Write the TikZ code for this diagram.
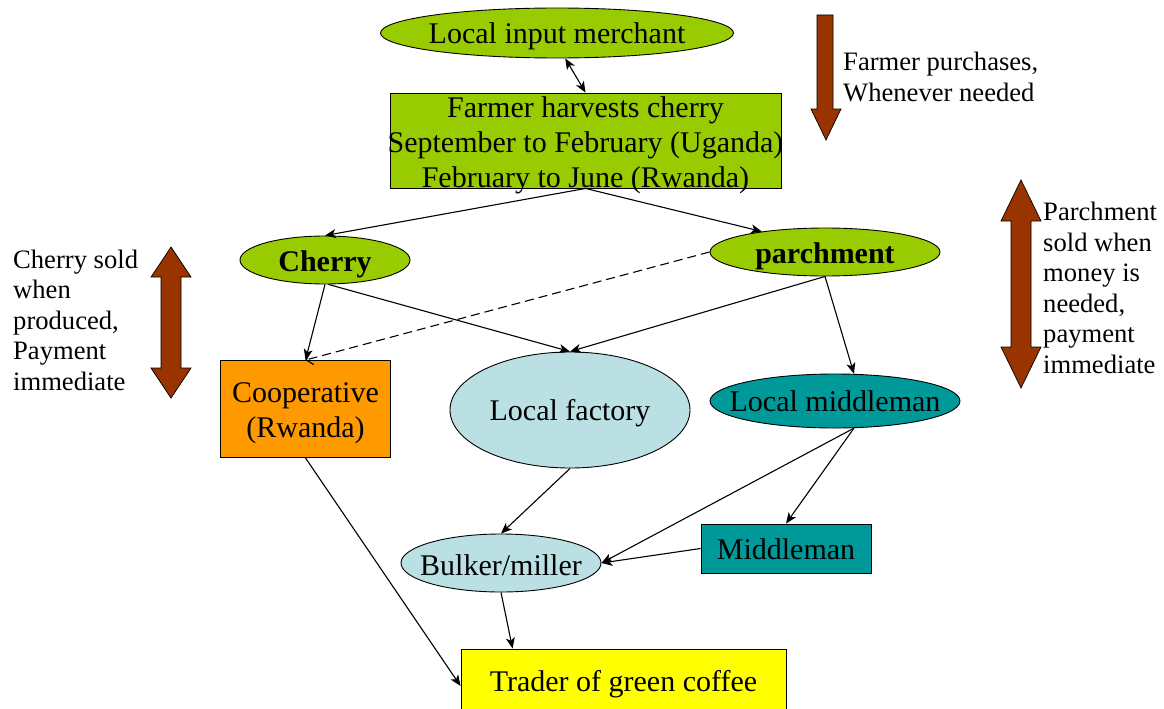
\documentclass[tikz,border=0pt]{standalone}
\usepackage{fontspec}
\setmainfont{Liberation Serif}
\usetikzlibrary{shapes.geometric,arrows.meta}
\definecolor{lgreen}{HTML}{99CC00}
\definecolor{orng}{HTML}{FF9900}
\definecolor{lblue}{HTML}{BBE0E3}
\definecolor{teal2}{HTML}{009999}
\definecolor{yel}{HTML}{FFFF00}
\definecolor{brown2}{HTML}{993300}
\tikzset{
  base/.style={draw=black, line width=0.9pt, inner sep=0pt},
  oval/.style={base, ellipse},
  boxn/.style={base, rectangle},
  txt/.style={font=\fontsize{30}{35}\selectfont, align=center, inner sep=0pt},
  conn/.style={line width=1.1pt, -{Stealth[length=11pt,width=9pt,inset=3pt]}},
  dconn/.style={line width=1.1pt, dash pattern=on 9pt off 5pt, -{Straight Barb[length=6pt,width=13pt]}},
  side/.style={font=\fontsize{26.6}{30.5}\selectfont, align=left, anchor=north west, inner sep=0pt},
  blk/.style={fill=brown2, draw=black, line width=0.7pt},
}
\begin{document}
\begin{tikzpicture}[x=1pt,y=-1pt]
\useasboundingbox (0,0) rectangle (1164,709);
\begin{scope}
\clip (0,0) rectangle (1164,709);
% nodes
\node[oval, fill=lgreen, minimum width=353pt, minimum height=50pt,
  label={[txt,yshift=-3pt]center:Local input merchant}] (merchant) at (557,33) {};
\node[boxn, fill=lgreen, minimum width=391pt, minimum height=95pt,
  label={[txt,yshift=-4.5pt]center:Farmer harvests cherry\\September to February (Uganda)\\February to June (Rwanda)}] (farmer) at (585.5,140.5) {};
\node[oval, fill=lgreen, minimum width=170pt, minimum height=48pt,
  label={[txt,yshift=-4pt,font=\fontsize{30}{35}\selectfont\bfseries]center:Cherry}] (cherry) at (325,260) {};
\node[oval, fill=lgreen, minimum width=230pt, minimum height=48pt,
  label={[txt,yshift=-4pt,font=\fontsize{30}{35}\selectfont\bfseries]center:parchment}] (parch) at (825,252) {};
\node[boxn, fill=orng, minimum width=170pt, minimum height=97pt,
  label={[txt,yshift=-4.5pt]center:Cooperative\\(Rwanda)}] (coop) at (305.5,409) {};
\node[oval, fill=lblue, minimum width=240pt, minimum height=116pt,
  label={[txt,yshift=-3pt]center:Local factory}] (factory) at (570,410) {};
\node[oval, fill=teal2, minimum width=250pt, minimum height=54pt,
  label={[txt,yshift=-0.5pt]center:Local middleman}] (localmid) at (835,401) {};
\node[boxn, fill=teal2, minimum width=170pt, minimum height=49pt,
  label={[txt,yshift=-1pt]center:Middleman}] (middle) at (786,548.5) {};
\node[oval, fill=lblue, minimum width=200pt, minimum height=58pt,
  label={[txt,yshift=-2pt]center:Bulker/miller}] (bulker) at (501,563) {};
\node[boxn, fill=yel, minimum width=325pt, minimum height=66pt,
  label={[txt,yshift=-2pt]center:Trader of green coffee}] (trader) at (623.5,682) {};
% connectors
\draw[line width=1.1pt, {Stealth[length=11pt,width=9pt,inset=3pt]}-{Stealth[length=11pt,width=9pt,inset=3pt]}] (merchant.-72) -- (farmer.north);
\draw[conn] (farmer.south) -- (cherry.north);
\draw[conn] (farmer.south) -- (parch.162);
\draw[conn] (cherry.south) -- (coop.north);
\draw[conn] (cherry.-82) -- (factory.north);
\draw[conn] (parch.south) -- (factory.north);
\draw[conn] (parch.south) -- (localmid.55);
\draw[dconn] (parch.west) -- (coop.north);
\draw[conn] (coop.south) -- ([yshift=-4pt]trader.west);
\draw[conn] (factory.south) -- (bulker.north);
\draw[conn] (localmid.-55) -- (middle.north);
\draw[conn] (localmid.-55) -- (bulker.east);
\draw[conn] (middle.west) -- (bulker.east);
\draw[conn] (bulker.south) -- ([xshift=52pt]trader.north west);
\end{scope}
% block arrows
\draw[blk] (817,15) -- (833,15) -- (833,109) -- (841,109) -- (826,140) -- (811,109) -- (817,109) -- cycle;
\draw[blk] (1021,180) -- (1041,221) -- (1031,221) -- (1031,347) -- (1041,347) -- (1021,388) -- (1001,347) -- (1011,347) -- (1011,221) -- (1001,221) -- cycle;
\draw[blk] (171,247) -- (191,277) -- (181,277) -- (181,368) -- (191,368) -- (171,398) -- (151,368) -- (161,368) -- (161,277) -- (151,277) -- cycle;
% side texts
\node[side] (t1) at (843,52) {Farmer purchases,\\Whenever needed};
\node[side] (t2) at (1043,202) {Parchment\\sold when\\money is\\needed,\\payment\\immediate};
\node[side] (t3) at (13,249.5) {Cherry sold\\when\\produced,\\Payment\\immediate};
\end{tikzpicture}
\end{document}
